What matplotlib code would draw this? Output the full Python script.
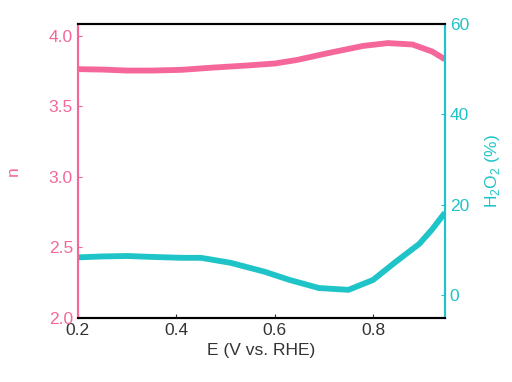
import matplotlib.pyplot as plt
import numpy as np

plt.rcParams['font.family'] = ['Liberation Sans', 'DejaVu Sans']
plt.rcParams['mathtext.fontset'] = 'custom'
plt.rcParams['mathtext.rm'] = 'Liberation Sans'

pink = '#F5679A'
cyan = '#1EC4C8'

# electron transfer number n
E_n = [0.20, 0.25, 0.30, 0.35, 0.41, 0.47, 0.54, 0.60, 0.645, 0.71, 0.78,
       0.83, 0.88, 0.92, 0.946]
n = [3.765, 3.762, 3.755, 3.755, 3.76, 3.775, 3.79, 3.805, 3.83, 3.88, 3.93,
     3.95, 3.94, 3.89, 3.835]

# H2O2 yield (%)
E_h = [0.20, 0.25, 0.30, 0.35, 0.41, 0.45, 0.51, 0.58, 0.63, 0.69, 0.75,
       0.80, 0.846, 0.894, 0.92, 0.946]
h2o2 = [8.3, 8.5, 8.6, 8.4, 8.2, 8.2, 7.1, 5.1, 3.3, 1.5, 1.1,
        3.3, 7.3, 11.3, 14.5, 18.2]

fig, ax = plt.subplots(figsize=(5.12, 3.82), dpi=100)
fig.subplots_adjust(left=0.152, right=0.869, top=0.937, bottom=0.168)

ax.plot(E_n, n, color=pink, lw=4.2, solid_capstyle='butt', solid_joinstyle='round')
ax.set_xlim(0.2, 0.946)
ax.set_ylim(2.0, 4.085)
ax.set_xticks([0.2, 0.4, 0.6, 0.8])
ax.set_yticks([2.0, 2.5, 3.0, 3.5, 4.0])
ax.set_yticklabels(['2.0', '2.5', '3.0', '3.5', '4.0'])
ax.set_xlabel('E (V vs. RHE)', fontsize=12.5, color='#333333')
ax.set_ylabel('n', fontsize=12.5, color=pink, labelpad=20)
ax.tick_params(axis='x', direction='in', length=3, labelsize=12.5, colors='#333333')
ax.tick_params(axis='y', direction='in', length=3, labelsize=12.5, colors=pink)

ax2 = ax.twinx()
ax2.plot(E_h, h2o2, color=cyan, lw=4.2, solid_capstyle='butt', solid_joinstyle='round')
ax2.set_ylim(-5.1, 60)
ax2.set_yticks([0, 20, 40, 60])
ax2.set_ylabel(r'H$_2$O$_2$ (%)', fontsize=12.5, color=cyan, labelpad=10)
ax2.tick_params(axis='y', direction='in', length=3, labelsize=12.5, colors=cyan)

for a in (ax, ax2):
    a.spines['left'].set_color(pink)
    a.spines['right'].set_color(cyan)
    a.spines['top'].set_color('black')
    a.spines['bottom'].set_color('black')
    for s in a.spines.values():
        s.set_linewidth(1.5)

fig.savefig('out.png', dpi=100)
